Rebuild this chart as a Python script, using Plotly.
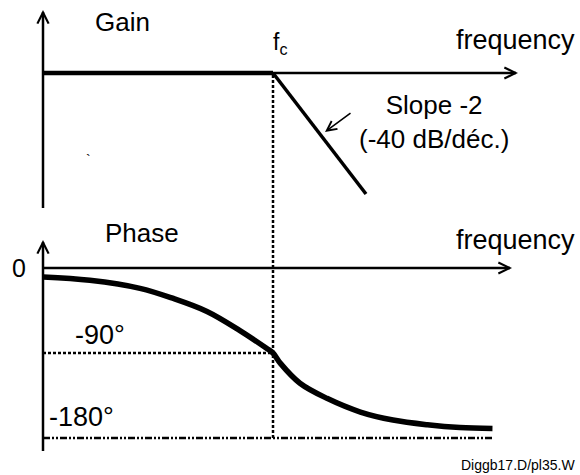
import plotly.graph_objects as go

# ---- data -------------------------------------------------------------
# frequency in decades relative to the corner frequency fc (log10(f/fc))
gain_logf = [-2.47, 0.0, 1.0]
gain_db = [0.0, 0.0, -40.0]

phase_logf = [-2.47, -1.97, -1.43, -1.08, -0.71, -0.36, -0.07, 0.0,
              0.08, 0.29, 0.58, 0.94, 1.29, 1.66, 2.01, 2.36]
phase_deg = [-9.5, -13.0, -21.5, -32.0, -46.0, -66.0, -85.0, -90.0,
             -101.0, -122.0, -138.0, -152.5, -161.0, -166.0, -169.0, -170.0]

phase_ticks = [0, -90, -180]
phase_tick_text = ["0", "-90°", "-180°"]

axis_titles = ["Gain", "Phase"]
freq_label = "frequency"
corner_label = "f<sub>c</sub>"
slope_label = "Slope -2<br>(-40 dB/déc.)"
footer = "Diggb17.D/pl35.W"

# ---- canvas geometry ---------------------------------------------------
W, H = 580, 475
DEC_PX = 93.0          # pixels per decade
FC_PX = 273.0          # x pixel of fc
DB_PX = 3.025          # pixels per dB
GAIN0_PX = 73.0        # y pixel of 0 dB
DEG_PX = 170.0 / 180.0 # pixels per degree
PHASE0_PX = 268.0      # y pixel of 0 degrees

x_range = [(0 - FC_PX) / DEC_PX, (W - FC_PX) / DEC_PX]
y_gain_range = [-(H - GAIN0_PX) / DB_PX, GAIN0_PX / DB_PX]
y_phase_range = [-(H - PHASE0_PX) / DEG_PX, PHASE0_PX / DEG_PX]


def fx(px):
    return (px - FC_PX) / DEC_PX


def gdb(py):
    return (GAIN0_PX - py) / DB_PX


def pdeg(py):
    return (PHASE0_PX - py) / DEG_PX


def paper_y_gain(v):
    return (v - y_gain_range[0]) / (y_gain_range[1] - y_gain_range[0])


def paper_y_phase(v):
    return (v - y_phase_range[0]) / (y_phase_range[1] - y_phase_range[0])


FONT = "Liberation Sans, Arial, sans-serif"
BLACK = "#000000"
DOT = "3px,2px"

fig = go.Figure()

# gain asymptotes
fig.add_trace(go.Scatter(
    x=gain_logf[:2], y=gain_db[:2], mode="lines",
    line=dict(color=BLACK, width=4.5), yaxis="y", hoverinfo="skip"))
fig.add_trace(go.Scatter(
    x=gain_logf[1:], y=gain_db[1:], mode="lines",
    line=dict(color=BLACK, width=3.5), yaxis="y", hoverinfo="skip"))

# phase curve
fig.add_trace(go.Scatter(
    x=phase_logf, y=phase_deg, mode="lines", line_shape="spline",
    line=dict(color=BLACK, width=5.5), yaxis="y2", hoverinfo="skip"))

shapes = []
x_left = fx(43)

# gain axes (lines; arrow heads added as annotations)
shapes.append(dict(type="line", xref="x", yref="y", x0=x_left, x1=x_left,
                   y0=gdb(208), y1=gdb(12), line=dict(color=BLACK, width=2.5)))
shapes.append(dict(type="line", xref="x", yref="y", x0=x_left, x1=fx(516),
                   y0=0, y1=0, line=dict(color=BLACK, width=2.5)))
# phase axes
shapes.append(dict(type="line", xref="x", yref="y2", x0=x_left, x1=x_left,
                   y0=pdeg(451), y1=pdeg(242), line=dict(color=BLACK, width=2.5)))
shapes.append(dict(type="line", xref="x", yref="y2", x0=x_left, x1=fx(510),
                   y0=phase_ticks[0], y1=phase_ticks[0],
                   line=dict(color=BLACK, width=2.5)))

# -90 deg guide and -180 deg asymptote
shapes.append(dict(type="line", xref="x", yref="y2", x0=x_left, x1=0,
                   y0=phase_ticks[1], y1=phase_ticks[1],
                   line=dict(color=BLACK, width=2.5, dash=DOT)))
shapes.append(dict(type="line", xref="x", yref="y2", x0=x_left,
                   x1=phase_logf[-1], y0=phase_ticks[2], y1=phase_ticks[2],
                   line=dict(color=BLACK, width=2.5,
                             dash="7px,2px,2px,2px,2px,2px")))

# vertical fc guide through both panels
shapes.append(dict(type="line", xref="x", yref="paper", x0=0, x1=0,
                   y0=paper_y_phase(phase_ticks[2]), y1=paper_y_gain(0),
                   line=dict(color=BLACK, width=2.5, dash=DOT)))

annotations = []


def arrow_head(x, y, yref, ax, ay):
    annotations.append(dict(
        x=x, y=y, xref="x", yref=yref, ax=ax, ay=ay, text="",
        showarrow=True, arrowhead=5, arrowsize=1.1, arrowwidth=2,
        arrowcolor=BLACK, standoff=0))


arrow_head(x_left, gdb(10), "y", 0, 16)
arrow_head(fx(518), 0, "y", -16, 0)
arrow_head(x_left, pdeg(240), "y2", 0, 16)
arrow_head(fx(512), 0, "y2", -16, 0)

# pointer to the -40 dB/dec slope
annotations.append(dict(
    x=fx(325), y=gdb(132), xref="x", yref="y", axref="x", ayref="y",
    ax=fx(352), ay=gdb(112), text="", showarrow=True, arrowhead=5,
    arrowsize=1.2, arrowwidth=1.6, arrowcolor=BLACK, standoff=0))


def label(text, px, py, size=26, xanchor="center"):
    annotations.append(dict(
        x=px / W, y=1 - py / H, xref="paper", yref="paper", text=text,
        showarrow=False, xanchor=xanchor, yanchor="middle",
        font=dict(family=FONT, size=size, color=BLACK)))


label(axis_titles[0], 122, 22)
label(axis_titles[1], 142, 233)
label(freq_label, 577, 40, size=27, xanchor="right")
label(freq_label, 577, 240, size=27, xanchor="right")
label(corner_label, 280, 44, size=23)
label(slope_label, 434, 122, size=26)
label(footer, 577, 465, size=14, xanchor="right")
label("`", 88, 160, size=14)

# phase tick labels, placed against their levels
annotations.append(dict(x=fx(19), y=phase_ticks[0], xref="x", yref="y2",
                        text=phase_tick_text[0], showarrow=False,
                        xanchor="center", yanchor="middle",
                        font=dict(family=FONT, size=25, color=BLACK)))
annotations.append(dict(x=fx(100), y=phase_ticks[1], xref="x", yref="y2",
                        text=phase_tick_text[1], showarrow=False,
                        xanchor="center", yanchor="middle", yshift=18,
                        font=dict(family=FONT, size=27, color=BLACK)))
annotations.append(dict(x=fx(81), y=phase_ticks[2], xref="x", yref="y2",
                        text=phase_tick_text[2], showarrow=False,
                        xanchor="center", yanchor="middle", yshift=21,
                        font=dict(family=FONT, size=27, color=BLACK)))

fig.update_layout(
    width=W, height=H,
    margin=dict(l=0, r=0, t=0, b=0),
    paper_bgcolor="white", plot_bgcolor="white",
    showlegend=False,
    xaxis=dict(range=x_range, visible=False, fixedrange=True),
    yaxis=dict(range=y_gain_range, visible=False, domain=[0, 1]),
    yaxis2=dict(range=y_phase_range, visible=False, overlaying="y",
                domain=[0, 1]),
    shapes=shapes,
    annotations=annotations,
)

fig.write_html("out.html")
